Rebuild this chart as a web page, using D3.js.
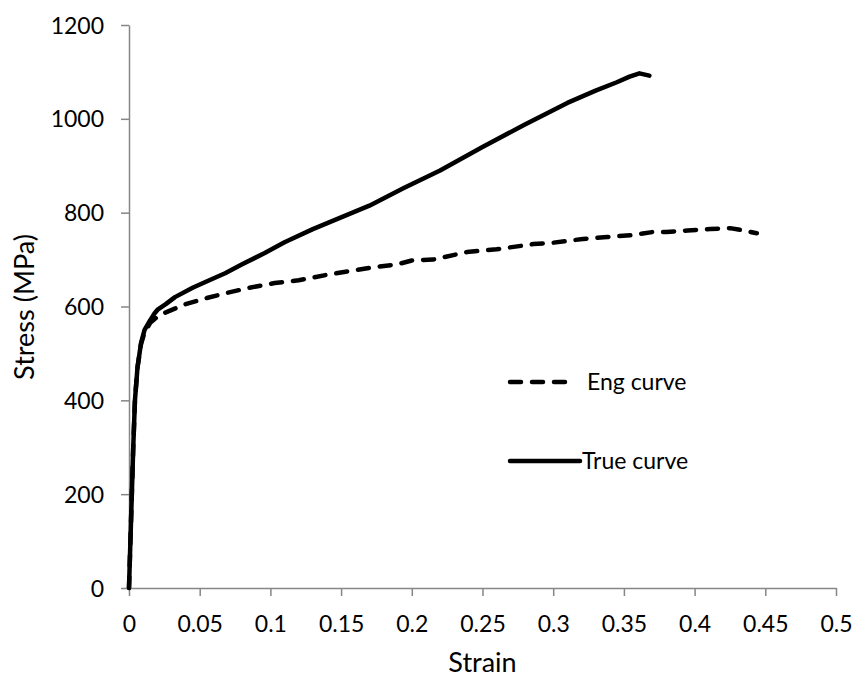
<!DOCTYPE html>
<html>
<head>
<meta charset="utf-8">
<script src="https://cdn.jsdelivr.net/npm/d3@7"></script>
<style>
  html, body { margin: 0; padding: 0; background: #fff; }
  text { font-family: Lato, "Open Sans", sans-serif; fill: #000; }
</style>
</head>
<body>
<svg id="chart" width="854" height="678"></svg>
<script>
// ---- data ----
const xTicks = [0, 0.05, 0.1, 0.15, 0.2, 0.25, 0.3, 0.35, 0.4, 0.45, 0.5];
const yTicks = [0, 200, 400, 600, 800, 1000, 1200];
const seriesNames = ["Eng curve", "True curve"];
const engStrain = [0, 0.001, 0.002, 0.003, 0.0042, 0.006, 0.0085, 0.011, 0.015, 0.02, 0.025, 0.04, 0.055, 0.068, 0.085, 0.103, 0.12, 0.139, 0.155, 0.174, 0.19, 0.2, 0.215, 0.239, 0.26, 0.286, 0.3, 0.321, 0.338, 0.355, 0.371, 0.38, 0.395, 0.411, 0.425, 0.435, 0.444];
const engStress = [0, 100, 200, 300, 400, 470, 520, 545, 565, 578, 586, 605, 618, 628, 640, 650, 656, 667, 675, 684, 690, 698, 700, 716, 722, 733, 736, 744, 748, 752, 759, 759, 762, 765, 767, 762, 756];
const trueStrain = [0, 0.001, 0.002, 0.003, 0.0042, 0.006, 0.0085, 0.011, 0.015, 0.018, 0.0205, 0.026, 0.0325, 0.045, 0.056, 0.068, 0.08, 0.096, 0.11, 0.13, 0.15, 0.17, 0.194, 0.22, 0.25, 0.28, 0.31, 0.33, 0.345, 0.354, 0.361, 0.368];
const trueStress = [0, 100, 200, 300, 400, 470, 522, 550, 571, 585, 594, 605, 620, 640, 655, 671, 690, 714, 737, 765, 790, 815, 852, 890, 940, 988, 1034, 1060, 1078, 1090, 1097, 1092];

// ---- layout ----
const svg = d3.select("#chart");
const x = d3.scaleLinear().domain([0, 0.5]).range([129, 836]);
const y = d3.scaleLinear().domain([0, 1200]).range([588, 25]);
const axisColor = "#868686";

// x axis
const gx = svg.append("g").attr("transform", `translate(0,${y(0)})`)
  .call(d3.axisBottom(x).tickValues(xTicks).tickSize(8).tickSizeOuter(0)
    .tickFormat(d => String(+d.toFixed(2))));
gx.select(".domain").attr("stroke", axisColor).attr("stroke-width", 1.5);
gx.selectAll(".tick line").attr("stroke", axisColor).attr("stroke-width", 1.5);
gx.selectAll(".tick text").attr("font-size", 23).attr("dy", 0).attr("y", 0)
  .attr("transform", "translate(0,44)").attr("font-family", "Lato, sans-serif").attr("fill", "#000");

// y axis
const gy = svg.append("g").attr("transform", `translate(${x(0)},0)`)
  .call(d3.axisLeft(y).tickValues(yTicks).tickSize(8).tickSizeOuter(0)
    .tickFormat(d => String(d)));
gy.select(".domain").attr("stroke", axisColor).attr("stroke-width", 1.5);
gy.selectAll(".tick line").attr("stroke", axisColor).attr("stroke-width", 1.5);
gy.selectAll(".tick text").attr("font-size", 23).attr("x", -25).attr("dy", "0.35em")
  .attr("font-family", "Lato, sans-serif").attr("fill", "#000");

// axis titles
svg.append("text").attr("x", (x(0) + x(0.5)) / 2).attr("y", 672)
  .attr("text-anchor", "middle").attr("font-size", 27).text("Strain");
svg.append("text").attr("transform", `translate(34,307) rotate(-90)`)
  .attr("text-anchor", "middle").attr("font-size", 27).text("Stress (MPa)");

// lines
const line = d3.line().x(d => x(d[0])).y(d => y(d[1]));
const engData = engStrain.map((s, i) => [s, engStress[i]]);
const trueData = trueStrain.map((s, i) => [s, trueStress[i]]);

svg.append("path").datum(engData).attr("d", line)
  .attr("fill", "none").attr("stroke", "#000").attr("stroke-width", 4.5)
  .attr("stroke-linecap", "round").attr("stroke-linejoin", "round")
  .attr("stroke-dasharray", "11,11");
svg.append("path").datum(trueData).attr("d", line)
  .attr("fill", "none").attr("stroke", "#000").attr("stroke-width", 4.5)
  .attr("stroke-linecap", "round").attr("stroke-linejoin", "round");

// legend
const legend = svg.append("g");
const legendRows = [
  { name: seriesNames[0], y: 382, x2: 570, dash: "11,11", tx: 587 },
  { name: seriesNames[1], y: 461, x2: 580, dash: null, tx: 582 }
];
legendRows.forEach(r => {
  const l = legend.append("line").attr("x1", 510).attr("x2", r.x2).attr("y1", r.y).attr("y2", r.y)
    .attr("stroke", "#000").attr("stroke-width", 4.5).attr("stroke-linecap", "round");
  if (r.dash) l.attr("stroke-dasharray", r.dash);
  legend.append("text").attr("x", r.tx).attr("y", r.y).attr("dy", "0.35em")
    .attr("font-size", 23).text(r.name);
});
</script>
</body>
</html>
